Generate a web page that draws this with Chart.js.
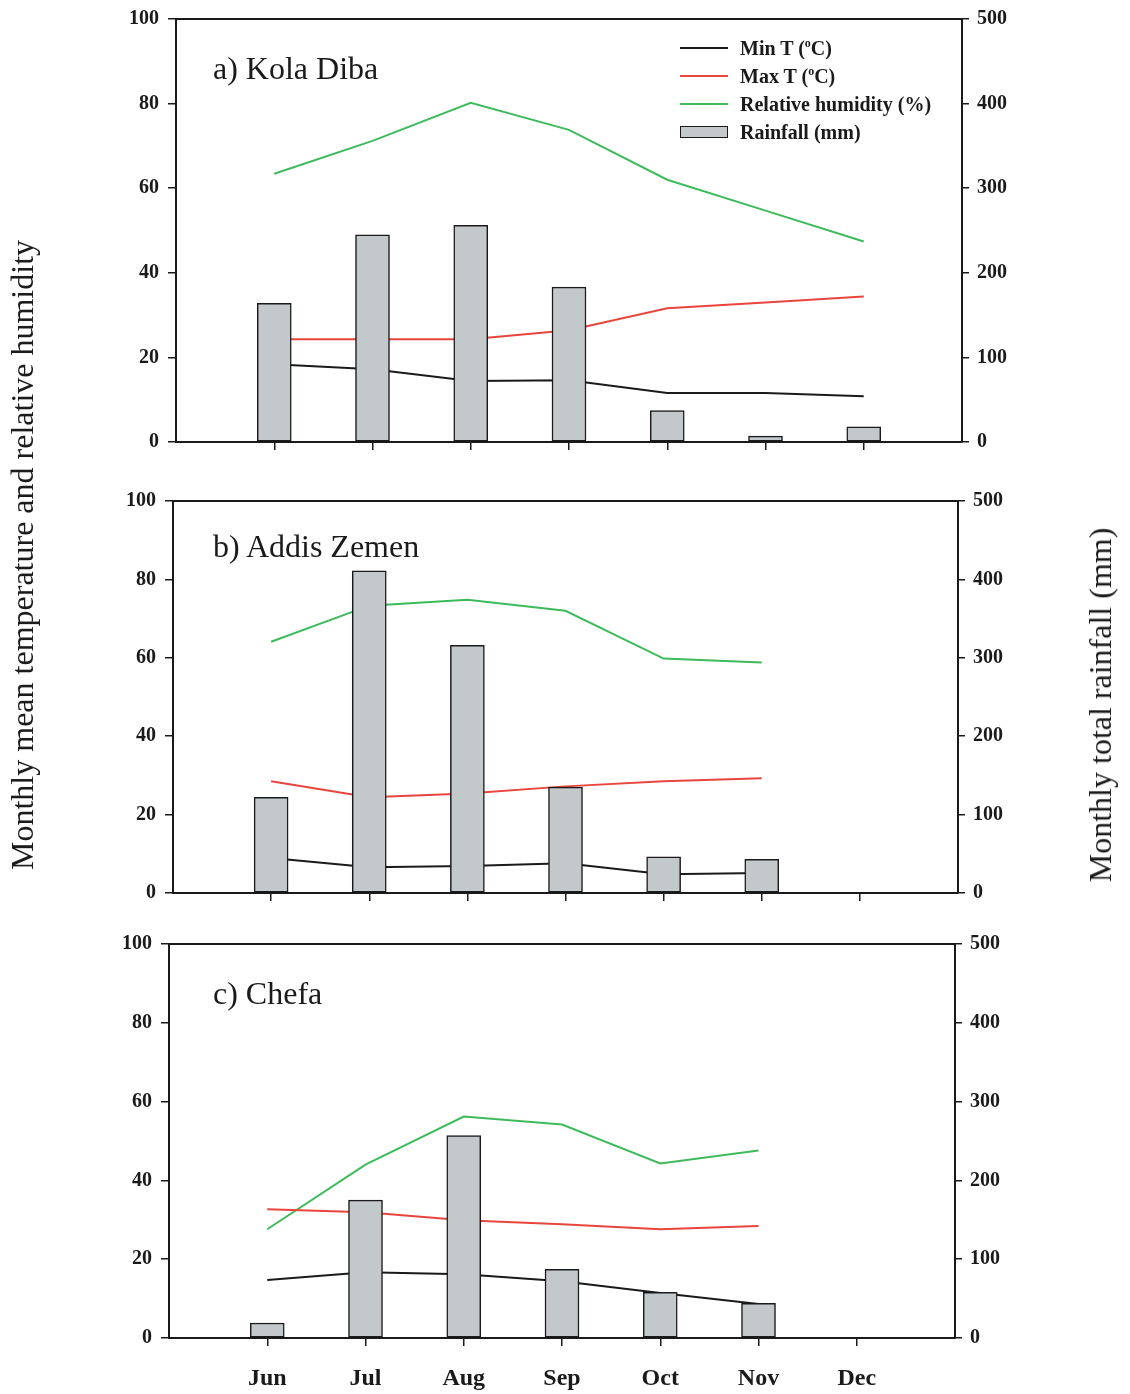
<!DOCTYPE html>
<html>
<head>
<meta charset="utf-8">
<script src="https://cdn.jsdelivr.net/npm/chart.js@4.4.0/dist/chart.umd.min.js"></script>
<style>
body { margin:0; background:#fff; width:1130px; height:1394px; position:relative; overflow:hidden;
       font-family:'Liberation Serif','Times New Roman',serif; color:#1a1a1a; }
canvas { position:absolute; left:0; }
.ttl { position:absolute; left:213px; font-size:32px; line-height:1; white-space:nowrap; }
.ax { position:absolute; font-size:32px; line-height:1; white-space:nowrap; transform:translate(-50%,-50%) rotate(-90deg); }
.leg { position:absolute; left:680px; top:34px; font-size:20px; font-weight:bold; }
.leg div { height:28px; display:flex; align-items:center; white-space:nowrap; }
.leg .s { display:inline-block; width:48px; margin-right:12px; }
.leg sup { font-size:12px; vertical-align:top; line-height:1; }
</style>
</head>
<body>
<canvas id="chartA" width="1130"></canvas>
<canvas id="chartB" width="1130"></canvas>
<canvas id="chartC" width="1130"></canvas>

<div class="ttl" style="top:52px">a) Kola Diba</div>
<div class="ttl" style="top:530px">b) Addis Zemen</div>
<div class="ttl" style="top:977px">c) Chefa</div>

<div class="ax" style="left:22px; top:555px">Monthly mean temperature and relative humidity</div>
<div class="ax" style="left:1100px; top:705px">Monthly total rainfall (mm)</div>

<div class="leg">
  <div><span class="s" style="border-top:2px solid #1a1a1a"></span><span>Min T (<sup>o</sup>C)</span></div>
  <div><span class="s" style="border-top:2px solid #e8453c"></span><span>Max T (<sup>o</sup>C)</span></div>
  <div><span class="s" style="border-top:2px solid #3dbb5c"></span><span>Relative humidity (%)</span></div>
  <div><span class="s" style="height:12px; background:#c3c8cb; border:1.5px solid #1a1a1a; box-sizing:border-box"></span><span>Rainfall (mm)</span></div>
</div>

<script>
var months = ['Jun', 'Jul', 'Aug', 'Sep', 'Oct', 'Nov', 'Dec'];
var monthNums = [6, 7, 8, 9, 10, 11, 12];
var tempTicks = [0, 20, 40, 60, 80, 100];
var rainTicks = [0, 100, 200, 300, 400, 500];

// a) Kola Diba
var rainKola = [164, 245, 256, 183, 37, 7, 18];
var minKola = [18.4, 17.2, 14.4, 14.6, 11.6, 11.6, 10.8];
var maxKola = [24.3, 24.3, 24.3, 26.4, 31.6, 33.0, 34.4];
var rhKola = [63.4, 71.2, 80.2, 73.8, 62.0, 54.7, 47.4];

// b) Addis Zemen
var rainAddis = [122, 411, 316, 135, 46, 43, 0];
var minAddis = [8.9, 6.6, 6.9, 7.6, 4.8, 5.1, null];
var maxAddis = [28.5, 24.4, 25.4, 27.2, 28.5, 29.3, null];
var rhAddis = [64.1, 73.3, 74.8, 72.0, 59.8, 58.8, null];

// c) Chefa
var rainChefa = [19, 175, 257, 87, 58, 44, 0];
var minChefa = [14.7, 16.7, 16.2, 14.4, 11.4, 8.6, null];
var maxChefa = [32.7, 31.9, 29.9, 28.9, 27.6, 28.4, null];
var rhChefa = [27.6, 44.0, 56.2, 54.2, 44.3, 47.6, null];

var ink = '#1a1a1a';
var tickFont = { family: "'Liberation Serif','Times New Roman',serif", size: 20, weight: 'bold' };
var monthFont = { family: "'Liberation Serif','Times New Roman',serif", size: 24, weight: 'bold' };

var toPoints = function(vals) {
    return monthNums.map((m, i) => ({ x: m, y: vals[i] }));
};

// top edge of the plot frame
var framePlugin = {
    id: 'frame',
    afterDatasetsDraw: (chart) => {
        const a = chart.chartArea;
        const c = chart.ctx;
        c.save();
        c.strokeStyle = ink;
        c.lineWidth = 2;
        c.beginPath();
        c.moveTo(a.left - 1, a.top);
        c.lineTo(a.right + 1, a.top);
        c.stroke();
        c.restore();
    }
};

var createPanel = function(id, box, rain, tmin, tmax, rh, showMonths) {
    const canvas = document.getElementById(id);
    const padTop = 20;
    const extra = showMonths ? 56 : 22;
    canvas.height = (box.bottom - box.top) + padTop + extra;
    canvas.style.top = (box.top - padTop) + 'px';

    return new Chart(canvas.getContext('2d'), {
        type: 'bar',
        data: {
            datasets: [
                { type: 'bar', data: toPoints(rain), yAxisID: 'y2', barThickness: 34,
                  backgroundColor: '#c3c8cb', borderColor: ink, borderWidth: 1.5, borderSkipped: false },
                { type: 'line', data: toPoints(tmin), yAxisID: 'y', borderColor: ink, borderWidth: 2,
                  pointRadius: 0, tension: 0, fill: false },
                { type: 'line', data: toPoints(tmax), yAxisID: 'y', borderColor: '#e8453c', borderWidth: 2,
                  pointRadius: 0, tension: 0, fill: false },
                { type: 'line', data: toPoints(rh), yAxisID: 'y', borderColor: '#3dbb5c', borderWidth: 2,
                  pointRadius: 0, tension: 0, fill: false }
            ]
        },
        options: {
            responsive: false,
            animation: false,
            devicePixelRatio: 1,
            layout: { padding: { top: padTop, left: 0, right: 0, bottom: 0 } },
            plugins: { legend: { display: false }, tooltip: { enabled: false } },
            scales: {
                x: {
                    type: 'linear', min: 5, max: 13, offset: false,
                    afterBuildTicks: (s) => { s.ticks = monthNums.map(v => ({ value: v })); },
                    afterFit: (s) => { s.height = extra; },
                    ticks: { display: showMonths, autoSkip: false, maxRotation: 0, padding: 18,
                             color: ink, font: monthFont, callback: (v) => months[v - 6] },
                    grid: { offset: false, drawOnChartArea: false, drawTicks: true, tickLength: 8, color: ink, lineWidth: 1.5 },
                    border: { color: ink, width: 2 }
                },
                y: {
                    position: 'left', min: 0, max: 100,
                    afterBuildTicks: (s) => { s.ticks = tempTicks.map(v => ({ value: v })); },
                    afterFit: (s) => { s.width = box.left; },
                    ticks: { color: ink, font: tickFont, padding: 9 },
                    grid: { drawOnChartArea: false, tickLength: 8, color: ink, lineWidth: 1.5 },
                    border: { color: ink, width: 2 }
                },
                y2: {
                    position: 'right', min: 0, max: 500,
                    afterBuildTicks: (s) => { s.ticks = rainTicks.map(v => ({ value: v })); },
                    afterFit: (s) => { s.width = 1130 - box.right; },
                    ticks: { color: ink, font: tickFont, padding: 8 },
                    grid: { drawOnChartArea: false, tickLength: 7, color: ink, lineWidth: 1.5 },
                    border: { color: ink, width: 2 }
                }
            }
        },
        plugins: [framePlugin]
    });
};

createPanel('chartA', { top: 18, bottom: 442, left: 176, right: 962 }, rainKola, minKola, maxKola, rhKola, false);
createPanel('chartB', { top: 500, bottom: 893, left: 173, right: 958 }, rainAddis, minAddis, maxAddis, rhAddis, false);
createPanel('chartC', { top: 943, bottom: 1338, left: 169, right: 955 }, rainChefa, minChefa, maxChefa, rhChefa, true);
</script>
</body>
</html>
